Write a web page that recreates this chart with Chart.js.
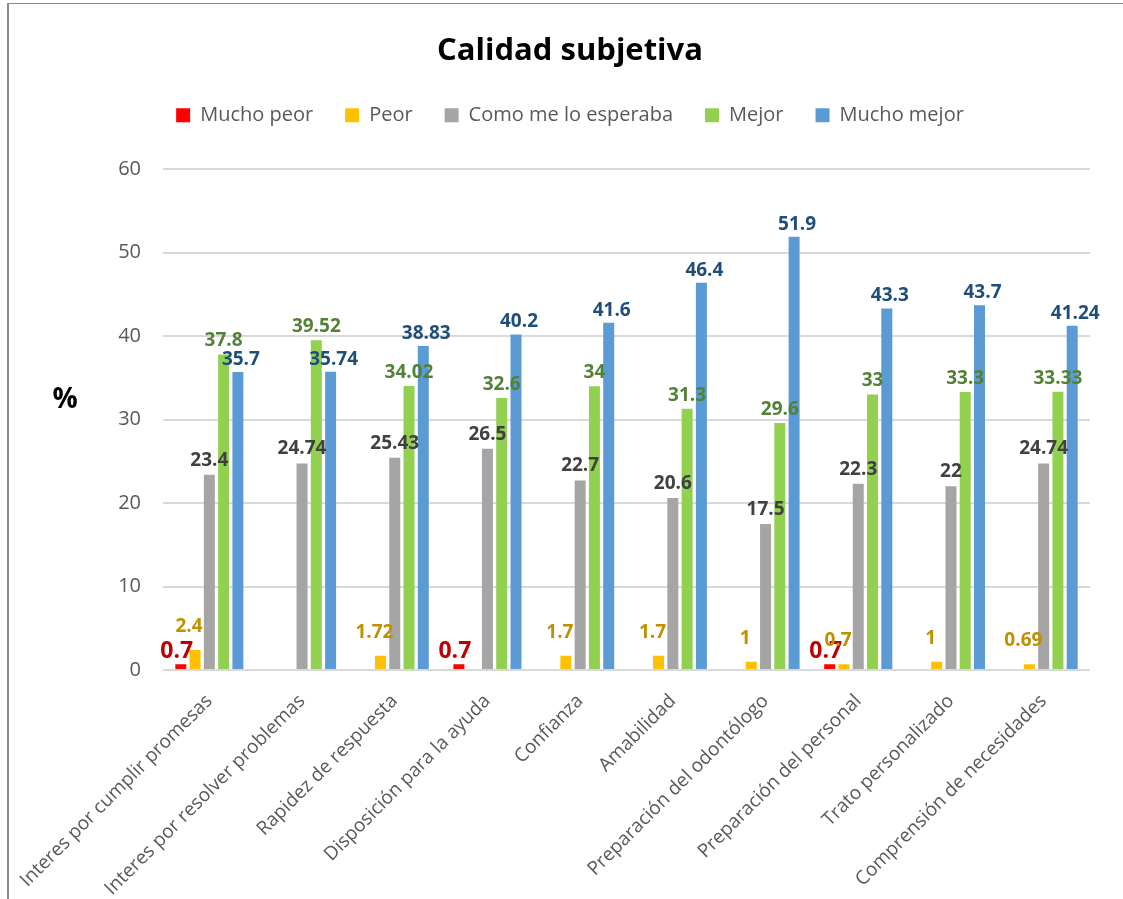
<!DOCTYPE html>
<html>
<head>
<meta charset="utf-8">
<title>Calidad subjetiva</title>
<script src="https://cdn.jsdelivr.net/npm/chart.js@4.4.0/dist/chart.umd.min.js"></script>
<style>
  body { margin: 0; background: #fff; overflow: hidden; }
  #wrap { position: relative; width: 1123px; height: 899px; }
  #frame { position: absolute; left: 7px; top: 3px; width: 1116px; height: 896px;
           border-top: 1px solid #8c8c8c; border-left: 2px solid #8c8c8c; pointer-events: none; }
</style>
</head>
<body>
<div id="wrap">
  <canvas id="myChart" width="1123" height="899"></canvas>
  <div id="frame"></div>
</div>
<script>
// categories and series (empty where no bar)
const categories = [
  'Interes por cumplir promesas', 'Interes por resolver problemas', 'Rapidez de respuesta',
  'Disposición para la ayuda', 'Confianza', 'Amabilidad', 'Preparación del odontólogo',
  'Preparación del personal', 'Trato personalizado', 'Comprensión de necesidades'
];
const muchoPeor = [0.7, null, null, 0.7, null, null, null, 0.7, null, null];
const peor = [2.4, null, 1.72, null, 1.7, 1.7, 1, 0.7, 1, 0.69];
const comoEsperaba = [23.4, 24.74, 25.43, 26.5, 22.7, 20.6, 17.5, 22.3, 22, 24.74];
const mejor = [37.8, 39.52, 34.02, 32.6, 34, 31.3, 29.6, 33, 33.3, 33.33];
const muchoMejor = [35.7, 35.74, 38.83, 40.2, 41.6, 46.4, 51.9, 43.3, 43.7, 41.24];
const yTicks = [0, 10, 20, 30, 40, 50, 60];

const FONT = "'Open Sans', sans-serif";

// draws the value above each bar
const valueLabels = {
  id: 'valueLabels',
  afterDatasetsDraw(chart) {
    const ctx = chart.ctx;
    chart.data.datasets.forEach((ds, i) => {
      const meta = chart.getDatasetMeta(i);
      ctx.save();
      ctx.font = ds.labelFont;
      ctx.fillStyle = ds.labelColor;
      ctx.textAlign = 'center';
      ctx.textBaseline = 'bottom';
      meta.data.forEach((bar, j) => {
        const v = ds.data[j];
        if (v === null) return;
        ctx.fillText(String(v), bar.x + ds.labelShift, bar.y - ds.labelLift);
      });
      ctx.restore();
    });
  }
};

// horizontal "%" axis title
const percentTitle = {
  id: 'percentTitle',
  afterDraw(chart) {
    const ctx = chart.ctx;
    ctx.save();
    ctx.font = 'bold 28px ' + FONT;
    ctx.fillStyle = '#000';
    ctx.textAlign = 'center';
    ctx.textBaseline = 'middle';
    ctx.fillText('%', 65, 400);
    ctx.restore();
  }
};

function bars(label, data, color, labelColor, labelFont, labelShift, labelLift) {
  return {
    label: label,
    data: data,
    backgroundColor: color,
    borderWidth: 0,
    labelColor: labelColor,
    labelFont: labelFont,
    labelShift: labelShift,
    labelLift: labelLift
  };
}

const ctx = document.getElementById('myChart').getContext('2d');
new Chart(ctx, {
  type: 'bar',
  data: {
    labels: categories,
    datasets: [
      bars('Mucho peor', muchoPeor, '#FF0000', '#C00000', 'bold 23px ' + FONT, -4, 1),
      bars('Peor', peor, '#FFC000', '#BF9000', 'bold 19px ' + FONT, -6, 14),
      bars('Como me lo esperaba', comoEsperaba, '#A5A5A5', '#404040', 'bold 19px ' + FONT, 0, 5),
      bars('Mejor', mejor, '#92D050', '#538135', 'bold 19px ' + FONT, 0, 4),
      bars('Mucho mejor', muchoMejor, '#5B9BD5', '#1F4E79', 'bold 19px ' + FONT, 3, 3)
    ]
  },
  options: {
    responsive: false,
    animation: false,
    layout: { padding: { left: 50, right: 33, top: 0, bottom: 0 } },
    datasets: { bar: { categoryPercentage: 0.77, barPercentage: 0.77 } },
    plugins: {
      title: {
        display: true,
        text: 'Calidad subjetiva',
        color: '#000',
        font: { family: FONT, size: 31, weight: 'bold' },
        padding: { top: 33, bottom: 3 }
      },
      legend: {
        position: 'top',
        labels: {
          color: '#595959',
          font: { family: FONT, size: 20 },
          boxWidth: 14,
          boxHeight: 14,
          padding: 32
        }
      },
      tooltip: { enabled: false }
    },
    scales: {
      x: {
        grid: { display: false },
        border: { display: false },
        ticks: {
          color: '#595959',
          font: { family: FONT, size: 19 },
          maxRotation: 45,
          minRotation: 45,
          padding: 12,
          autoSkip: false
        },
        afterFit(scale) {
          scale.height = 229;
          scale.paddingLeft = 0;
          scale.paddingRight = 0;
        }
      },
      // empty strip that keeps the gap between legend and plot
      gap: {
        type: 'category',
        position: 'top',
        grid: { display: false },
        border: { display: false },
        ticks: { display: false },
        afterFit(scale) { scale.height = 34; }
      },
      y: {
        min: 0,
        max: 60,
        afterBuildTicks(scale) { scale.ticks = yTicks.map(v => ({ value: v })); },
        grid: { color: '#D9D9D9', lineWidth: 2, drawTicks: false },
        border: { display: false },
        ticks: {
          color: '#595959',
          font: { family: FONT, size: 20 },
          padding: 22
        },
        afterFit(scale) { scale.width = 113; }
      }
    }
  },
  plugins: [valueLabels, percentTitle]
});
</script>
</body>
</html>
